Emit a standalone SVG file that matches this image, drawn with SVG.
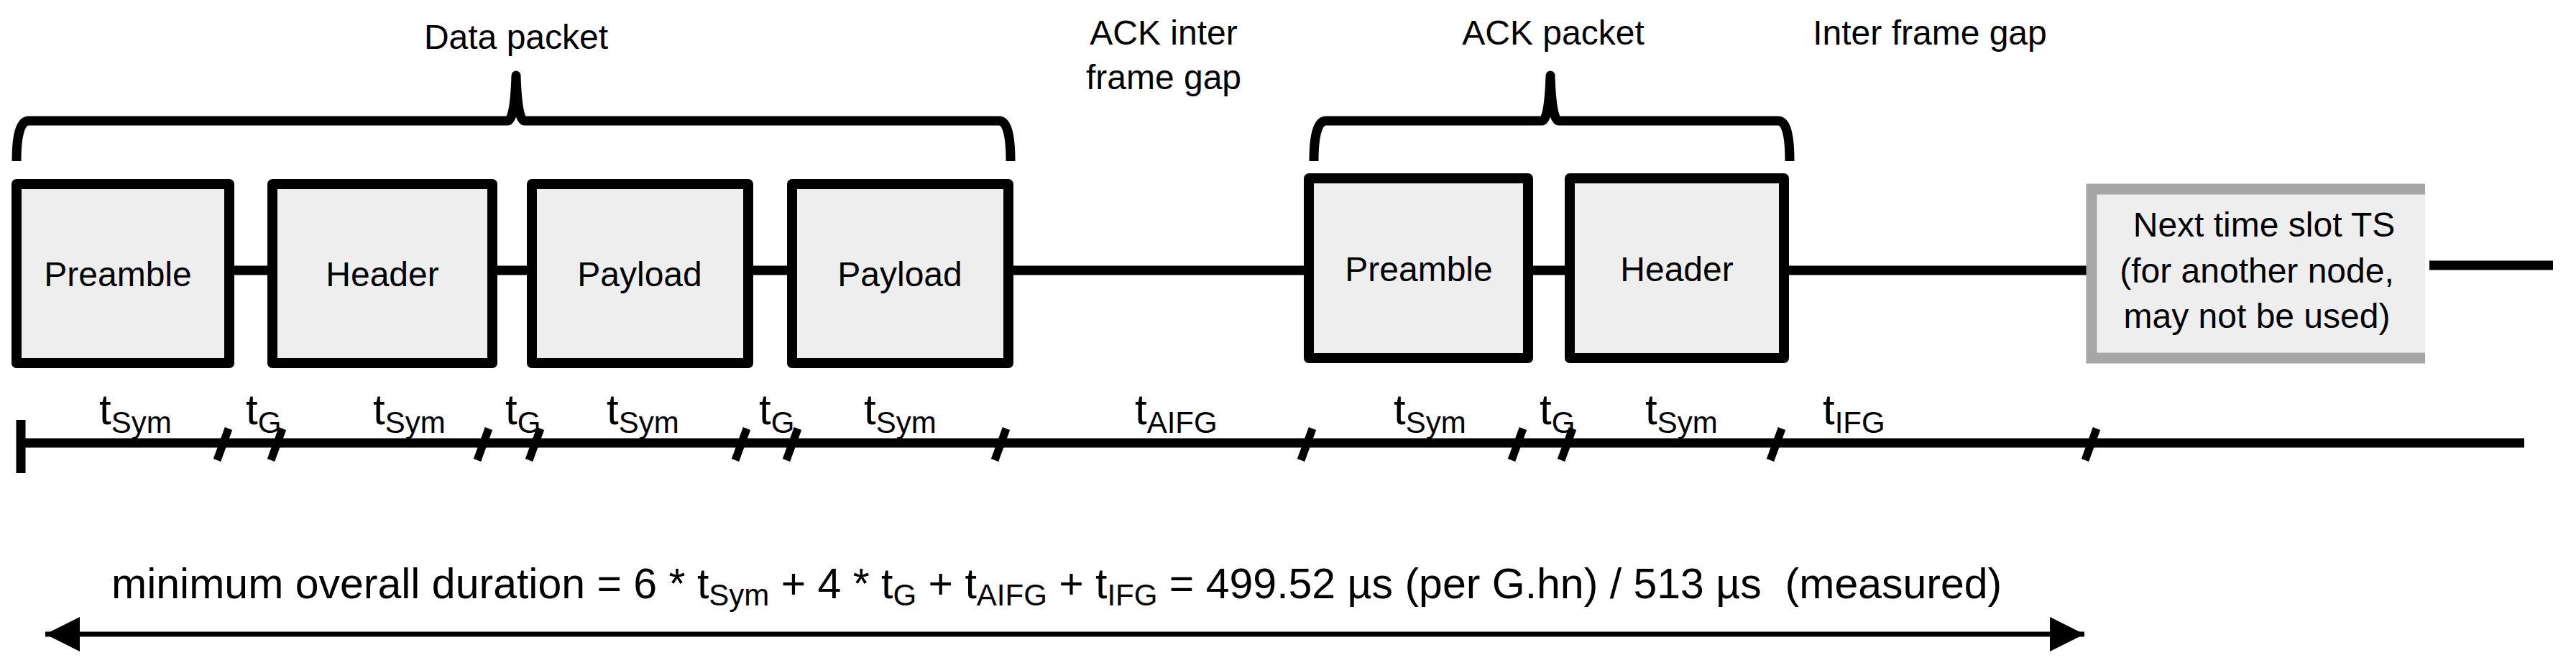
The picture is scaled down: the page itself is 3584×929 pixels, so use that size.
<svg xmlns="http://www.w3.org/2000/svg" width="3584" height="929" viewBox="0 0 3584 929">
<style>
text{font-family:"Liberation Sans",Arial,sans-serif;fill:#000}
.box{fill:#eeeeee;stroke:#000;stroke-width:14;stroke-linejoin:round}
.lbl{font-size:48px;text-anchor:middle}
.ln{stroke:#000;stroke-width:13;fill:none}
.br{stroke:#000;stroke-width:13;fill:none;stroke-linejoin:round}
.sl{stroke:#000;stroke-width:11}
.t{font-size:60px}
.s{font-size:42px}
.bt{font-size:59px}
.bs{font-size:42px}
</style>
<defs>
<marker id="ah" viewBox="0 0 10 10" refX="10" refY="5" markerWidth="48" markerHeight="48" markerUnits="userSpaceOnUse" orient="auto-start-reverse"><path d="M0,0 L10,5 L0,10 z" fill="#000"/></marker>
</defs>
<g id="connectors">
<line class="ln" x1="319" y1="376" x2="379" y2="376"/>
<line class="ln" x1="685" y1="376" x2="740" y2="376"/>
<line class="ln" x1="1041" y1="376" x2="1102" y2="376"/>
<line class="ln" x1="1403" y1="376" x2="1821" y2="376"/>
<line class="ln" x1="2126" y1="376" x2="2184" y2="376"/>
<line class="ln" x1="2482" y1="376" x2="2903" y2="376"/>
<line class="ln" x1="3380" y1="369" x2="3552" y2="369"/>
<line class="ln" x1="29" y1="616" x2="3512" y2="616" stroke-width="12"/>
<line class="ln" x1="29" y1="584" x2="29" y2="658" stroke-width="10"/>
<g class="sl">
<line x1="302" y1="640" x2="318" y2="596"/><line x1="377" y1="640" x2="393" y2="596"/>
<line x1="664" y1="640" x2="680" y2="596"/><line x1="736" y1="640" x2="752" y2="596"/>
<line x1="1023" y1="640" x2="1039" y2="596"/><line x1="1094" y1="640" x2="1110" y2="596"/>
<line x1="1384" y1="640" x2="1400" y2="596"/><line x1="1810" y1="640" x2="1826" y2="596"/>
<line x1="2103" y1="640" x2="2119" y2="596"/><line x1="2172" y1="640" x2="2188" y2="596"/>
<line x1="2463" y1="640" x2="2479" y2="596"/><line x1="2901" y1="640" x2="2917" y2="596"/>
</g>
<path class="br" d="M23,224 Q23,168 40,168 L706,168 Q716,168 718,105 Q720,168 730,168 L1390,168 Q1406,168 1406,224"/>
<path class="br" d="M1828,224 Q1828,168 1845,168 L2145,168 Q2155,168 2157,105 Q2159,168 2169,168 L2474,168 Q2490,168 2490,224"/>
<line x1="63" y1="882" x2="2900" y2="882" stroke="#000" stroke-width="7" marker-start="url(#ah)" marker-end="url(#ah)"/>
</g>
<g id="n1"><rect class="box" x="23" y="256" width="296" height="249"/><text class="lbl" x="164" y="398">Preamble</text></g>
<g id="n2"><rect class="box" x="379" y="256" width="306" height="249"/><text class="lbl" x="532" y="398">Header</text></g>
<g id="n3"><rect class="box" x="740" y="256" width="301" height="249"/><text class="lbl" x="890" y="398">Payload</text></g>
<g id="n4"><rect class="box" x="1102" y="256" width="301" height="249"/><text class="lbl" x="1252" y="398">Payload</text></g>
<g id="n5"><rect class="box" x="1821" y="248" width="305" height="250"/><text class="lbl" x="1974" y="391">Preamble</text></g>
<g id="n6"><rect class="box" x="2184" y="248" width="298" height="250"/><text class="lbl" x="2333" y="391">Header</text></g>
<g id="n7"><rect x="2903" y="256" width="471" height="249" fill="#eeeeee"/><path d="M3374,263 L2910,263 L2910,498 L3374,498" fill="none" stroke="#a6a6a6" stroke-width="15"/>
<text class="lbl" x="3150" y="329">Next time slot TS</text><text class="lbl" x="3140" y="393">(for another node,</text><text class="lbl" x="3140" y="456">may not be used)</text></g>
<g id="labels">
<text class="lbl" x="718" y="68">Data packet</text>
<text class="lbl" x="1619" y="62">ACK inter</text>
<text class="lbl" x="1619" y="124">frame gap</text>
<text class="lbl" x="2161" y="62">ACK packet</text>
<text class="lbl" x="2685" y="62">Inter frame gap</text>
<text class="t" x="138" y="590">t<tspan class="s" dy="12">Sym</tspan></text>
<text class="t" x="342" y="590">t<tspan class="s" dy="12">G</tspan></text>
<text class="t" x="519" y="590">t<tspan class="s" dy="12">Sym</tspan></text>
<text class="t" x="703" y="590">t<tspan class="s" dy="12">G</tspan></text>
<text class="t" x="844" y="590">t<tspan class="s" dy="12">Sym</tspan></text>
<text class="t" x="1056" y="590">t<tspan class="s" dy="12">G</tspan></text>
<text class="t" x="1202" y="590">t<tspan class="s" dy="12">Sym</tspan></text>
<text class="t" x="1579" y="590">t<tspan class="s" dy="12">AIFG</tspan></text>
<text class="t" x="1939" y="590">t<tspan class="s" dy="12">Sym</tspan></text>
<text class="t" x="2142" y="590">t<tspan class="s" dy="12">G</tspan></text>
<text class="t" x="2289" y="590">t<tspan class="s" dy="12">Sym</tspan></text>
<text class="t" x="2536" y="590">t<tspan class="s" dy="12">IFG</tspan></text>
<text class="bt" x="155" y="832" xml:space="preserve">minimum overall duration = 6 * t<tspan class="bs" dy="10">Sym</tspan><tspan dy="-10"> + 4 * t</tspan><tspan class="bs" dy="10">G</tspan><tspan dy="-10"> + t</tspan><tspan class="bs" dy="10">AIFG</tspan><tspan dy="-10"> + t</tspan><tspan class="bs" dy="10">IFG</tspan><tspan dy="-10"> = 499.52 µs (per G.hn) / 513 µs  (measured)</tspan></text>
</g>
</svg>
